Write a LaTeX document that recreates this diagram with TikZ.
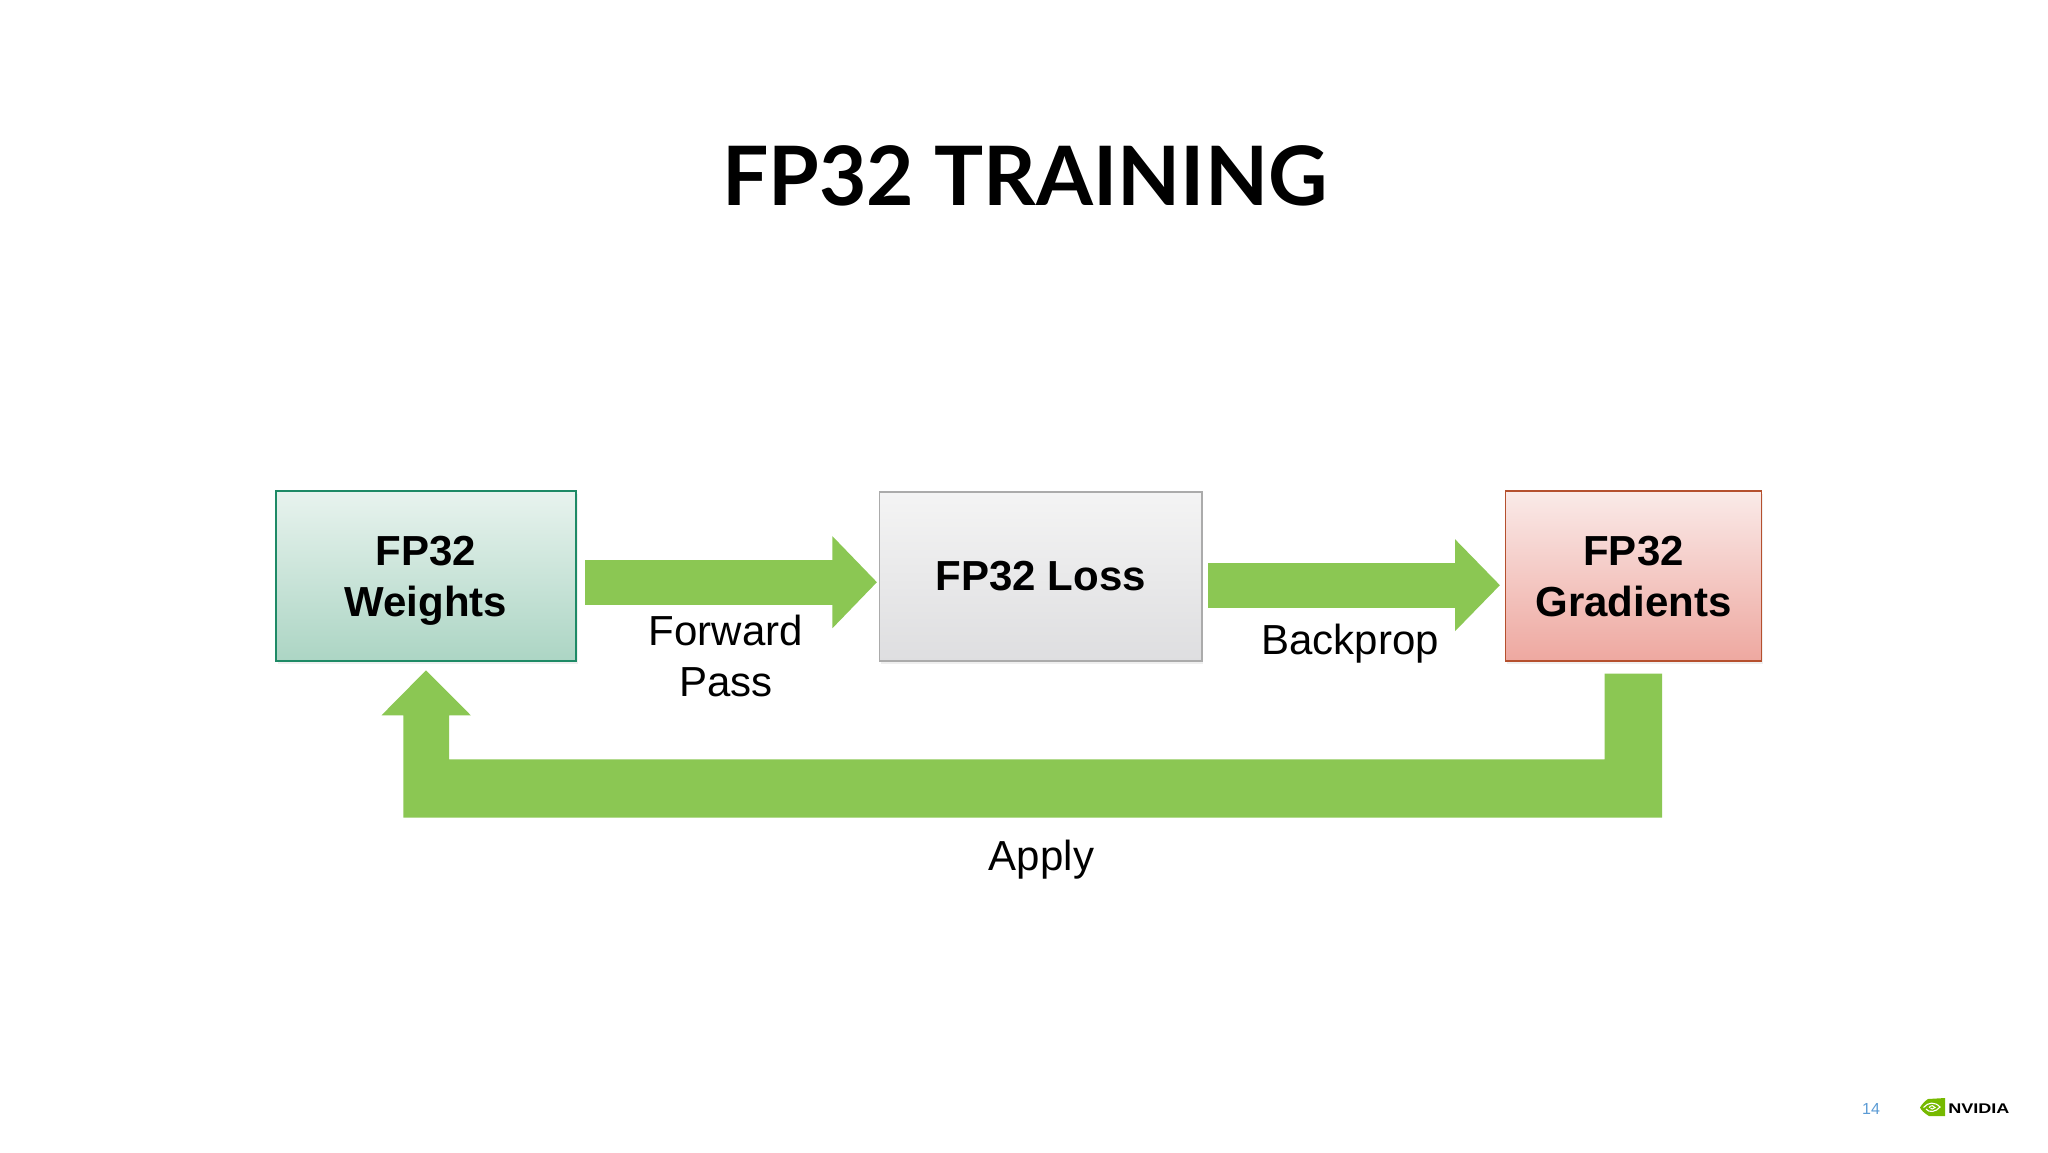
\documentclass[tikz,border=0pt]{standalone}
\usepackage{fontspec}
\setmainfont{Liberation Sans}
\newfontfamily\titlefont{Lato}
\usetikzlibrary{shadows,arrows.meta}
\definecolor{arrowgreen}{HTML}{8BC753}
\definecolor{nvgreen}{HTML}{76B900}
\definecolor{pagenum}{HTML}{5B9BD5}
\definecolor{HTMLw}{HTML}{1E8A66}
\definecolor{HTMLwt}{HTML}{E8F3EE}
\definecolor{HTMLwb}{HTML}{ACD5C4}
\definecolor{HTMLl}{HTML}{ABABAB}
\definecolor{HTMLlt}{HTML}{F4F4F4}
\definecolor{HTMLlb}{HTML}{DEDEE0}
\definecolor{HTMLg}{HTML}{B5502E}
\definecolor{HTMLgt}{HTML}{FAEAE8}
\definecolor{HTMLgb}{HTML}{EEA8A0}
\tikzset{
  x=1pt,y=-1pt,
  box/.style={rectangle,line width=1.5pt,inner sep=0pt,align=center,
    font=\fontsize{42}{51}\selectfont\bfseries,text=black,
    drop shadow={opacity=0.12,shadow xshift=1.5pt,shadow yshift=-2.5pt}},
  weightbox/.style={box,draw=HTMLw,top color=HTMLwt,bottom color=HTMLwb,minimum width=300pt,minimum height=170pt},
  lossbox/.style={box,draw=HTMLl,top color=HTMLlt,bottom color=HTMLlb,minimum width=322.5pt,minimum height=169pt},
  gradbox/.style={box,draw=HTMLg,top color=HTMLgt,bottom color=HTMLgb,minimum width=256pt,minimum height=170pt},
  lbl/.style={font=\fontsize{42}{51}\selectfont,text=black,align=center,inner sep=0pt},
  flow/.style={fill=arrowgreen,draw=none}
}
\begin{document}
\begin{tikzpicture}
\useasboundingbox (0,0) rectangle (2048,1152);
\fill[white] (0,0) rectangle (2048,1152);
% title
\node[anchor=base,inner sep=0pt,font=\fontsize{82}{82}\selectfont\titlefont\bfseries] (title) at (1025,205.6) {FP32 TRAINING};
% boxes
\node[weightbox] (weights) at (426,576) {FP32\\\raisebox{0pt}[\height][0pt]{Weights}};
\node[lossbox] (loss) at (1040.7,576.5) {FP32 Loss};
\node[gradbox] (grads) at (1633.5,576) {FP32\\\raisebox{0pt}[\height][0pt]{Gradients}};
% forward arrow
\coordinate (fwdA) at (585,582.2);
\coordinate (fwdB) at (877,582.2);
\draw[arrowgreen,line width=45pt,-{Triangle[length=44.6pt,width=89.4pt]}] (fwdA) -- (fwdB);
% backprop arrow
\coordinate (bckA) at (1208,585.2);
\coordinate (bckB) at (1500,585.2);
\draw[arrowgreen,line width=44.7pt,-{Triangle[length=45pt,width=89.3pt]}] (bckA) -- (bckB);
% apply arrow
\fill[flow] (1604.5,673.7) coordinate (appStart) -- (1662,673.7) -- (1662,817.5) -- (403.4,817.5) -- (403.4,715.3) -- (381.5,715.3)
  -- (426,670.3) coordinate (appTip) -- (470.8,715.3) -- (449,715.3) -- (449,759.3) -- (1604.5,759.3) -- cycle;
% labels
\node[lbl,anchor=base] (fwdl1) at (725.7,645.6) {Forward};
\node[lbl,anchor=base] (fwdl2) at (725.7,696) {Pass};
\node[lbl,anchor=base] (bckl) at (1350,654.6) {Backprop};
\node[lbl,anchor=base] (appl) at (1041.5,870) {Apply};
% footer
\node[anchor=center,inner sep=0pt,text=pagenum,font=\fontsize{16}{16}\selectfont] (pg) at (1871,1108.5) {14};
\begin{scope}[shift={(1920,1098)}]
  \fill[nvgreen] (8,1) -- (25,0) -- (25,18) -- (9,18) .. controls (4,15) and (1,12) .. (0,9.5) .. controls (2,6) and (5,3) .. (8,1) -- cycle;
  \draw[white,line width=1.1pt] (3.5,9.5) .. controls (8,4) and (15,3.5) .. (20,9) .. controls (16,14) and (9,15) .. (6,11);
  \draw[white,line width=1pt] (9,9.5) .. controls (11,7) and (14,7) .. (15,9.5) .. controls (13,11.5) and (11,11.5) .. (10.5,10);
\end{scope}
\node[anchor=base west,inner sep=0pt,font=\fontsize{14}{14}\selectfont\bfseries,xscale=1.29] (logo) at (1948,1113) {NVIDIA};
\end{tikzpicture}
\end{document}
